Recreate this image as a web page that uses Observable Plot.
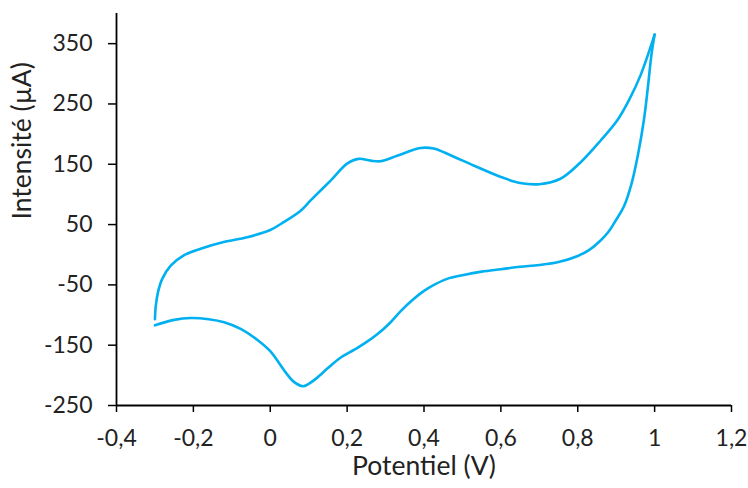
<!DOCTYPE html>
<html>
<head>
<meta charset="utf-8">
<script src="https://cdn.jsdelivr.net/npm/d3@7"></script>
<script src="https://cdn.jsdelivr.net/npm/@observablehq/plot@0.6"></script>
<style>
  html, body { margin: 0; padding: 0; background: #fff; }
  #chart { width: 748px; height: 488px; }
</style>
</head>
<body>
<div id="chart"></div>
<script>
// Forward scan (upper branch), potential in V, current in µA
const potentielAller = [-0.30, -0.298, -0.292, -0.281, -0.259, -0.225, -0.181, -0.121, -0.06, 0.00, 0.035, 0.079, 0.105, 0.157, 0.20, 0.23, 0.261, 0.287, 0.33, 0.391, 0.425, 0.469, 0.529, 0.60, 0.65, 0.70, 0.755, 0.807, 0.859, 0.903, 0.933, 0.963, 1.00];
const intensiteAller = [-107, -86, -62, -40, -18, -1, 10, 21, 29, 41, 54, 73, 90, 123, 151, 159, 156, 155, 164, 177, 176, 165, 148, 129, 119, 117, 126, 153, 189, 223, 256, 297, 365];
// Reverse scan (lower branch)
const potentielRetour = [1.00, 0.992, 0.982, 0.972, 0.957, 0.94, 0.92, 0.90, 0.88, 0.86, 0.83, 0.80, 0.75, 0.70, 0.65, 0.60, 0.55, 0.50, 0.46, 0.42, 0.40, 0.37, 0.34, 0.31, 0.28, 0.25, 0.22, 0.18, 0.15, 0.12, 0.10, 0.085, 0.06, 0.04, 0.00, -0.03, -0.077, -0.12, -0.16, -0.207, -0.25, -0.30];
const intensiteRetour = [365, 333, 275, 223, 167, 118, 80, 58, 38, 24, 8, -2, -12, -17, -20, -24, -28, -34, -40, -52, -60, -75, -93, -114, -131, -145, -157, -172, -188, -205, -214, -218, -210, -195, -160, -143, -123, -112, -107, -105, -108, -117];

const xTicks = [-0.4, -0.2, 0, 0.2, 0.4, 0.6, 0.8, 1, 1.2];
const yTicks = [-250, -150, -50, 50, 150, 250, 350];
const xLabel = "Potentiel (V)";
const yLabel = "Intensité (µA)";

const rows = [
  ...potentielAller.map((E, i) => ({E, I: intensiteAller[i], branch: "aller"})),
  ...potentielRetour.map((E, i) => ({E, I: intensiteRetour[i], branch: "retour"}))
];

const fmt = d => String(d).replace(".", ",");

const chart = Plot.plot({
  width: 748,
  height: 488,
  marginLeft: 116,
  marginRight: 17,
  marginTop: 13,
  marginBottom: 83,
  style: {fontFamily: "Lato, 'Open Sans', sans-serif", fontSize: "23px", color: "#222", background: "#fff"},
  x: {domain: [-0.4, 1.2]},
  y: {domain: [-250, 400]},
  marks: [
    Plot.axisX({ticks: xTicks, tickFormat: fmt, tickSize: 7, tickPadding: 17, label: null, stroke: "#000", strokeWidth: 1.5}),
    Plot.axisY({ticks: yTicks, tickFormat: d => String(d), tickSize: 8, tickPadding: 16, label: null, stroke: "#000", strokeWidth: 1.5}),
    Plot.ruleY([-250], {stroke: "#000", strokeWidth: 1.8}),
    Plot.ruleX([-0.4], {stroke: "#000", strokeWidth: 1.8}),
    Plot.line(rows, {x: "E", y: "I", z: "branch", stroke: "#00B0F0", strokeWidth: 2.6, curve: "catmull-rom"}),
    Plot.text([xLabel], {frameAnchor: "bottom", dy: 69, text: d => d, fontSize: 26.5, fill: "#222"}),
    Plot.text([yLabel], {frameAnchor: "left", dx: -94, dy: 10, rotate: -90, text: d => d, fontSize: 26.5, fill: "#222"})
  ]
});

document.getElementById("chart").appendChild(chart);
</script>
</body>
</html>
